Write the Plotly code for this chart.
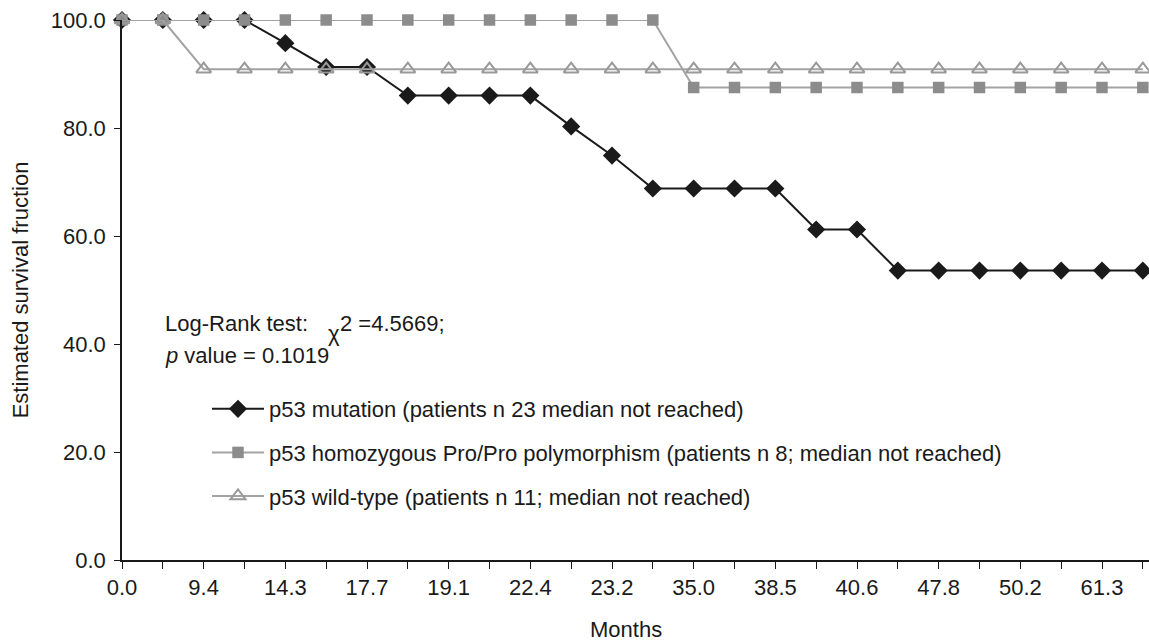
import plotly.graph_objects as go

# x categories: 26 follow-up time points (index positions); every other one labelled
tick_labels = ["0.0", "9.4", "14.3", "17.7", "19.1", "22.4", "23.2",
               "35.0", "38.5", "40.6", "47.8", "50.2", "61.3"]
n_points = 26
positions = list(range(n_points))

mutation = [100, 100, 100, 100, 95.7, 91.3, 91.3, 86.0, 86.0, 86.0, 86.0,
            80.3, 74.9, 68.8, 68.8, 68.8, 68.8, 61.2, 61.2, 53.6, 53.6,
            53.6, 53.6, 53.6, 53.6, 53.6]
homozygous = [100] * 14 + [87.5] * 12
wildtype = [100, 100] + [90.9] * 24

names = ["p53 mutation (patients n 23 median not reached)",
         "p53 homozygous Pro/Pro polymorphism (patients n 8; median not reached)",
         "p53 wild-type (patients n 11; median not reached)"]

FONT = "Arial, Liberation Sans, sans-serif"
TXT = "#1a1a1a"
L, T, R, B = 122, 20, 1149, 560
W, H = 1149, 644


def px(x):
    return (x - L) / (R - L)


def py(y):
    return (B - y) / (B - T)


fig = go.Figure()
fig.add_trace(go.Scatter(
    x=positions, y=mutation, name=names[0], mode="lines+markers",
    line=dict(color="#1a1a1a", width=2),
    marker=dict(symbol="diamond", size=14, color="#1a1a1a"),
    cliponaxis=False, legendgroup="a"))
fig.add_trace(go.Scatter(
    x=positions, y=homozygous, name=names[1], mode="lines+markers",
    line=dict(color="#a3a3a3", width=2),
    marker=dict(symbol="square", size=11.5, color="#8c8c8c"),
    cliponaxis=False, legendgroup="b"))
fig.add_trace(go.Scatter(
    x=positions, y=wildtype, name=names[2], mode="lines+markers",
    line=dict(color="#a3a3a3", width=2),
    marker=dict(symbol="triangle-up-open", size=13, color="#999999",
                line=dict(width=2)),
    cliponaxis=False, legendgroup="c"))

fig.update_layout(
    width=W, height=H,
    margin=dict(l=L, r=W - R, t=T, b=H - B, pad=0),
    paper_bgcolor="white", plot_bgcolor="white",
    font=dict(family=FONT, size=22, color=TXT),
    showlegend=True,
    legend=dict(x=px(207), y=py(388), xanchor="left", yanchor="top",
                bgcolor="rgba(0,0,0,0)", font=dict(size=22, color=TXT),
                itemwidth=52,
                traceorder="grouped", tracegroupgap=12),
    xaxis=dict(range=[0, (R - L) / ((1102 - 122) / 24)],
               tickmode="array",
               tickvals=positions[::2], ticktext=tick_labels,
               showline=True, linecolor="#1a1a1a", linewidth=1.5,
               ticks="outside", ticklen=7, tickcolor="#1a1a1a",
               showgrid=False, zeroline=False,
               minor=dict(tickvals=positions[1::2], ticks="outside",
                          ticklen=7, tickcolor="#1a1a1a", showgrid=False),
               tickfont=dict(size=22)),
    yaxis=dict(range=[0, 100], tickvals=[0, 20, 40, 60, 80, 100],
               tickformat=".1f",
               showline=True, linecolor="#1a1a1a", linewidth=1.5,
               ticks="outside", ticklen=6, tickcolor="#1a1a1a",
               ticklabelstandoff=4,
               showgrid=False, zeroline=False, tickfont=dict(size=22),
               title=dict(text="Estimated survival fruction",
                          font=dict(size=22), standoff=16)),
)

ann = [
    dict(text="Months", x=px(626), y=py(629)),
    dict(text="Log-Rank test:", x=px(163), y=py(324), xanchor="left"),
    dict(text="χ", x=px(326), y=py(333), xanchor="left"),
    dict(text="2 =4.5669;", x=px(338), y=py(323), xanchor="left"),
    dict(text="<i>p</i> value = 0.1019", x=px(163), y=py(355), xanchor="left"),
]
for a in ann:
    a.setdefault("xanchor", "center")
    fig.add_annotation(xref="paper", yref="paper", showarrow=False,
                       yanchor="middle", font=dict(size=22, family=FONT,
                                                   color=TXT), **a)

fig.write_html("out.html", config={"displayModeBar": False},
               post_script="document.body.style.margin='0';"
                           "document.body.style.overflow='hidden';")
